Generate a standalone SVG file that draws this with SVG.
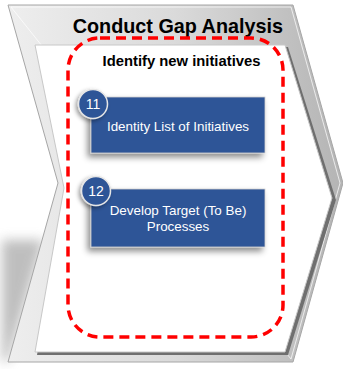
<svg xmlns="http://www.w3.org/2000/svg" width="343" height="369" viewBox="0 0 343 369">
<defs>
<linearGradient id="frameGrad" x1="0" y1="0" x2="1" y2="0">
<stop offset="0" stop-color="#eeeeee"/>
<stop offset="0.5" stop-color="#dadada"/>
<stop offset="1" stop-color="#b4b4b4"/>
</linearGradient>
<filter id="blur" x="-20%" y="-20%" width="140%" height="140%"><feGaussianBlur stdDeviation="6"/></filter>
<filter id="boxShadow" x="-20%" y="-30%" width="140%" height="170%"><feDropShadow dx="-3" dy="4" stdDeviation="3" flood-color="#000" flood-opacity="0.45"/></filter>
<filter id="circShadow" x="-40%" y="-40%" width="180%" height="180%"><feDropShadow dx="-2" dy="2" stdDeviation="2" flood-color="#000" flood-opacity="0.4"/></filter>
</defs>
<style>
.box{fill:#2f5597;stroke:#d0d0d0;stroke-width:0.8;filter:url(#boxShadow)}
.badge{fill:#2f5597;stroke:#e6e6e6;stroke-width:1.5;filter:url(#circShadow)}
.wt{fill:#ffffff;font-family:"Liberation Sans",Arial,sans-serif;font-size:13.4px;text-anchor:middle}
.num{fill:#ffffff;font-family:"Liberation Sans",Arial,sans-serif;font-size:14px;text-anchor:middle}
</style>
<g id="frame">
<polygon points="2,240 44,240 8,362 2,362" fill="#8a8a8a" opacity="0.55" filter="url(#blur)"/>
<polygon points="8,5 293,5 343,183 293,362 8,362 58,183" fill="url(#frameGrad)" stroke="#a6a6a6" stroke-width="1"/>
<polygon points="11,7 291,7 340,183 291,359" fill="none" stroke="#ffffff" stroke-width="1" opacity="0.7"/>
<polygon points="37,47 288,47 336,200 288,355 37,355 66,190" fill="#6f6f6f"/>
<polygon points="35,45 285,45 332,198 285,352 35,352 64,188" fill="#ffffff" stroke="#c8c8c8" stroke-width="1"/>
<text x="283" y="33" text-anchor="end" font-family="Liberation Sans,Arial,sans-serif" font-size="19.8" font-weight="bold" fill="#000000">Conduct Gap Analysis</text>
</g>
<g id="group-initiatives">
<rect x="68" y="38" width="215" height="299" rx="32" ry="32" fill="none" stroke="#ff0000" stroke-width="3.5" stroke-dasharray="10,6"/>
<text x="181.5" y="66" text-anchor="middle" font-family="Liberation Sans,Arial,sans-serif" font-size="14.8" font-weight="bold" fill="#000000">Identify new initiatives</text>
</g>
<g id="node-11">
<rect class="box" x="91" y="97" width="174" height="56"/>
<text class="wt" x="178" y="131">Identity List of Initiatives</text>
<circle class="badge" cx="93" cy="104" r="14.5"/>
<text class="num" x="93" y="109">11</text>
</g>
<g id="node-12">
<rect class="box" x="91" y="189" width="174" height="58"/>
<text class="wt" x="178" y="215">Develop Target (To Be)</text>
<text class="wt" x="178" y="231">Processes</text>
<circle class="badge" cx="96" cy="191" r="14.5"/>
<text class="num" x="96" y="196">12</text>
</g>
<g id="connectors"/>
</svg>
